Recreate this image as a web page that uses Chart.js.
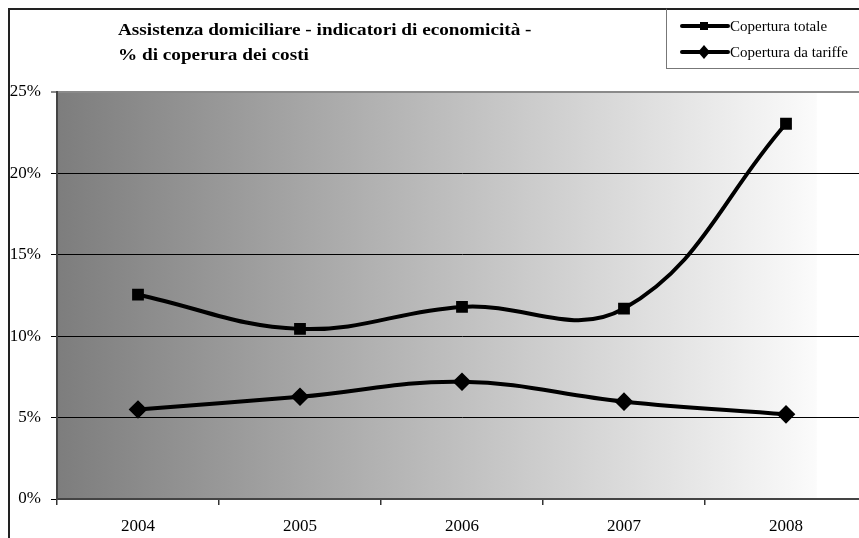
<!DOCTYPE html>
<html>
<head>
<meta charset="utf-8">
<script src="https://cdn.jsdelivr.net/npm/chart.js@4/dist/chart.umd.min.js"></script>
<style>
  html, body { margin: 0; padding: 0; background: #fff; overflow: hidden; }
  #wrap { position: relative; width: 859px; height: 538px; overflow: hidden; }
  #frame { position: absolute; left: 8px; top: 8px; width: 900px; height: 600px;
           border-left: 2px solid #222; border-top: 2px solid #222; }
  #c { position: absolute; left: 0; top: 0; }
  #title { position: absolute; left: 118px; top: 17px; font: bold 16px "Liberation Serif", serif;
           line-height: 25px; color: #000; white-space: nowrap;
           transform: scaleX(1.2); transform-origin: left top; }
  #legend { position: absolute; left: 666px; top: 8px; width: 200px; height: 58px; background: #fff;
            border-left: 1px solid #777; border-bottom: 1px solid #777; border-top: 2px solid #222;
            font: 15px "Liberation Serif", serif; color: #000; }
  .item { position: absolute; left: 13px; height: 20px; display: flex; align-items: center; white-space: nowrap; }
  .item svg { margin-right: 0px; }
</style>
</head>
<body>
<div id="wrap">
  <canvas id="c" width="910" height="538"></canvas>
  <div id="frame"></div>
  <div id="title">Assistenza domiciliare - indicatori di economicità -<br>% di coperura dei costi</div>
  <div id="legend"></div>
</div>
<script>
const years = ["2004", "2005", "2006", "2007", "2008"];
const coperturaTotale = [12.55, 10.45, 11.8, 11.7, 23.05];
const coperturaTariffe = [5.5, 6.28, 7.2, 5.98, 5.2];
const seriesNames = ["Copertura totale", "Copertura da tariffe"];
const yTicks = [0, 5, 10, 15, 20, 25];

const plotBackground = {
  id: "plotBackground",
  beforeDraw(chart) {
    const { ctx, chartArea: a } = chart;
    const gradEnd = a.left + a.width * 0.938;
    const g = ctx.createLinearGradient(a.left, 0, gradEnd, 0);
    g.addColorStop(0, "#7d7d7d");
    g.addColorStop(1, "#fbfbfb");
    ctx.save();
    ctx.fillStyle = g;
    ctx.fillRect(a.left, a.top, gradEnd - a.left, a.bottom - a.top);
    ctx.restore();
  }
};

const ctx = document.getElementById("c").getContext("2d");
new Chart(ctx, {
  type: "line",
  data: {
    labels: years,
    datasets: [{
      label: seriesNames[0],
      data: coperturaTotale,
      borderColor: "#000",
      backgroundColor: "#000",
      borderWidth: 4,
      tension: 0.4,
      pointStyle: "rect",
      pointRadius: 5.5,
      fill: false
    }, {
      label: seriesNames[1],
      data: coperturaTariffe,
      borderColor: "#000",
      backgroundColor: "#000",
      borderWidth: 4,
      tension: 0.4,
      pointStyle: "rectRot",
      pointRadius: 6.5,
      fill: false
    }]
  },
  options: {
    responsive: false,
    animation: false,
    layout: { padding: { left: 0, top: 92, right: 43, bottom: 0 } },
    plugins: { legend: { display: false }, title: { display: false }, tooltip: { enabled: false } },
    scales: {
      x: {
        offset: true,
        grid: { offset: true, drawOnChartArea: false, tickLength: 6, color: "#333", lineWidth: 1.5 },
        border: { color: "#444", width: 2 },
        ticks: { color: "#000", padding: 11, font: { family: "Liberation Serif", size: 17 } },
        afterFit(s) { s.height = 39; }
      },
      y: {
        min: 0,
        max: 25,
        afterBuildTicks(s) { s.ticks = yTicks.map(v => ({ value: v })); },
        grid: {
          tickLength: 6,
          color: c => (c.tick && c.tick.value === 25 ? "#8a8a8a" : "#000"),
          lineWidth: c => (c.tick && c.tick.value === 25 ? 2 : 1)
        },
        border: { color: "#444", width: 2 },
        ticks: { color: "#000", padding: 10, font: { family: "Liberation Serif", size: 17 },
                 callback: v => v + "%" },
        afterFit(s) { s.width = 57; }
      }
    }
  },
  plugins: [plotBackground]
});

// legend
const legend = document.getElementById("legend");
const styles = ["rect", "diamond"];
seriesNames.forEach((name, i) => {
  const item = document.createElement("div");
  item.className = "item";
  item.style.top = (i === 0 ? 6 : 32) + "px";
  const marker = styles[i] === "rect"
    ? '<rect x="20" y="5" width="8" height="8" fill="#000"/>'
    : '<polygon points="24,2 30,9 24,16 18,9" fill="#000"/>';
  item.innerHTML = '<svg width="50" height="18"><line x1="2" y1="9" x2="48" y2="9" stroke="#000" stroke-width="4" stroke-linecap="round"/>' +
    marker + '</svg><span>' + name + '</span>';
  legend.appendChild(item);
});
</script>
</body>
</html>
